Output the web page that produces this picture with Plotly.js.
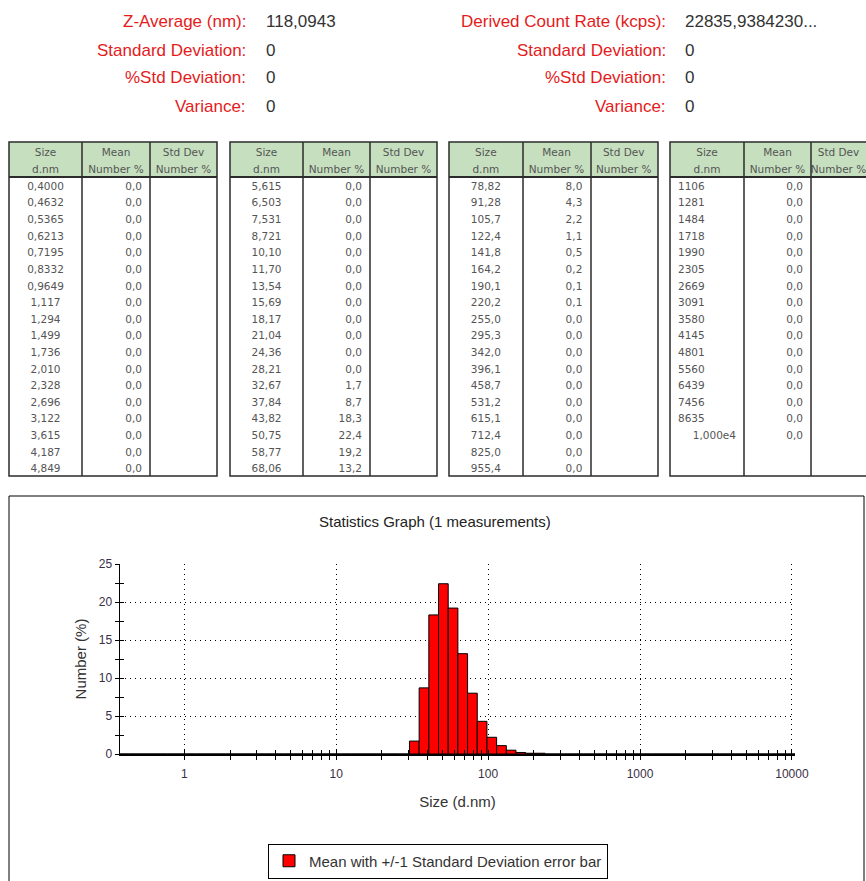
<!DOCTYPE html>
<html>
<head>
<meta charset="utf-8">
<script src="https://cdn.plot.ly/plotly-3.0.1.min.js"></script>
<style>
html,body{margin:0;padding:0;background:#ffffff;}
#chart{width:866px;height:881px;}
</style>
</head>
<body>
<div id="chart"></div>
<script>
// ---------------- data ----------------
const sizeLabels = [
  "0,4000","0,4632","0,5365","0,6213","0,7195","0,8332","0,9649","1,117","1,294",
  "1,499","1,736","2,010","2,328","2,696","3,122","3,615","4,187","4,849",
  "5,615","6,503","7,531","8,721","10,10","11,70","13,54","15,69","18,17",
  "21,04","24,36","28,21","32,67","37,84","43,82","50,75","58,77","68,06",
  "78,82","91,28","105,7","122,4","141,8","164,2","190,1","220,2","255,0",
  "295,3","342,0","396,1","458,7","531,2","615,1","712,4","825,0","955,4",
  "1106","1281","1484","1718","1990","2305","2669","3091","3580",
  "4145","4801","5560","6439","7456","8635","1,000e4"
];
const meanNumber = [
  0.0,0.0,0.0,0.0,0.0,0.0,0.0,0.0,0.0,
  0.0,0.0,0.0,0.0,0.0,0.0,0.0,0.0,0.0,
  0.0,0.0,0.0,0.0,0.0,0.0,0.0,0.0,0.0,
  0.0,0.0,0.0,1.7,8.7,18.3,22.4,19.2,13.2,
  8.0,4.3,2.2,1.1,0.5,0.2,0.1,0.1,0.0,
  0.0,0.0,0.0,0.0,0.0,0.0,0.0,0.0,0.0,
  0.0,0.0,0.0,0.0,0.0,0.0,0.0,0.0,0.0,
  0.0,0.0,0.0,0.0,0.0,0.0,0.0
];
const tableRowCounts = [18, 18, 18, 16];
const headerLabels = [["Size", "d.nm"], ["Mean", "Number\u00a0%"], ["Std\u00a0Dev", "Number\u00a0%"]];
const summaryLeftLabels = ["Z-Average (nm):", "Standard Deviation:", "%Std Deviation:", "Variance:"];
const summaryLeftValues = ["118,0943", "0", "0", "0"];
const summaryRightLabels = ["Derived Count Rate (kcps):", "Standard Deviation:", "%Std Deviation:", "Variance:"];
const summaryRightValues = ["22835,9384230...", "0", "0", "0"];
const xTickVals = [1, 10, 100, 1000, 10000];
const xTickText = ["1", "10", "100", "1000", "10000"];
const xMinorVals = [2,3,4,5,6,7,8,9,20,30,40,50,60,70,80,90,200,300,400,500,600,700,800,900,
                    2000,3000,4000,5000,6000,7000,8000,9000];
const yTickVals = [0, 5, 10, 15, 20, 25];
const graphTitle = "Statistics Graph (1 measurements)";
const seriesName = "Mean with +/-1 Standard Deviation error bar";

// ---------------- geometry helpers ----------------
const W = 866, H = 881;
const fx = v => v / W;
const fy = v => 1 - v / H;

const sizes = sizeLabels.map(s => parseFloat(s.replace(',', '.')));
const fmt1 = v => v.toFixed(1).replace('.', ',');

// bar edges halfway (geometrically) between neighbouring size classes
const lowEdge = sizes.map((s, i) => Math.sqrt(s * (i > 0 ? sizes[i - 1] : s * s / sizes[1])));
const highEdge = sizes.map((s, i) => Math.sqrt(s * (i < sizes.length - 1 ? sizes[i + 1] : s * s / sizes[i - 1])));

// ---------------- tables ----------------
const tableCols = [[9, 82, 150, 217], [230, 303, 370, 437], [449, 523, 591, 658], [670, 744, 811, 878]];
const tableTop = 142, headerBottom = 177, tableBottom = 476;
const traceTop = 140, headRowH = 17;
const rowH = (tableBottom - headerBottom) / 18;
const tFont = {family: "DejaVu Sans, Verdana, sans-serif", size: 10.5, color: "#555555"};
const lineCol = "#2b2b2b";
const clear = 'rgba(0,0,0,0)';

const traces = [];
const shapes = [];
let start = 0;
tableRowCounts.forEach((n, t) => {
  const c = tableCols[t];
  const right = Math.min(c[3], W);
  const lab = sizeLabels.slice(start, start + n);
  const mean = meanNumber.slice(start, start + n).map(fmt1);
  const sd = lab.map(() => "");
  const sizeAlign = t === 3 ? lab.map(l => (l.indexOf('e') >= 0 ? 'right' : 'left')) : lab.map(() => 'center');
  // header background (drawn under the transparent table)
  shapes.push({type: 'rect', layer: 'below', xref: 'paper', yref: 'paper', x0: fx(c[0]), x1: fx(c[3]), y0: fy(tableTop), y1: fy(headerBottom), fillcolor: '#c6e0bf', line: {width: 0}});
  traces.push({
    type: 'table',
    domain: {x: [fx(c[0]), fx(right)], y: [fy(tableBottom + 2), fy(traceTop)]},
    columnwidth: [c[1] - c[0], c[2] - c[1], right - c[2]],
    header: {
      values: headerLabels,
      height: headRowH,
      align: 'center',
      fill: {color: clear},
      line: {color: clear, width: 0},
      font: tFont
    },
    cells: {
      values: [lab, mean, sd],
      height: rowH,
      align: [sizeAlign, 'right', 'right'],
      fill: {color: clear},
      line: {color: clear, width: 0},
      font: tFont
    }
  });
  const lw = 1.5;
  shapes.push({type: 'rect', xref: 'paper', yref: 'paper', x0: fx(c[0]), x1: fx(c[3]), y0: fy(tableTop), y1: fy(tableBottom), line: {color: lineCol, width: lw}});
  shapes.push({type: 'line', xref: 'paper', yref: 'paper', x0: fx(c[1]), x1: fx(c[1]), y0: fy(tableTop), y1: fy(tableBottom), line: {color: lineCol, width: lw}});
  shapes.push({type: 'line', xref: 'paper', yref: 'paper', x0: fx(c[2]), x1: fx(c[2]), y0: fy(tableTop), y1: fy(tableBottom), line: {color: lineCol, width: lw}});
  shapes.push({type: 'line', xref: 'paper', yref: 'paper', x0: fx(c[0]), x1: fx(c[3]), y0: fy(headerBottom), y1: fy(headerBottom), line: {color: lineCol, width: 2}});
  start += n;
});

// graph frame
shapes.push({type: 'rect', xref: 'paper', yref: 'paper', x0: fx(9), x1: fx(864), y0: fy(496), y1: fy(900), line: {color: '#000', width: 1}});

// ---------------- bar chart ----------------
traces.push({
  type: 'bar',
  name: seriesName,
  x: sizes,
  y: meanNumber,
  offset: sizes.map((s, i) => lowEdge[i] - s),
  width: sizes.map((s, i) => highEdge[i] - lowEdge[i]),
  marker: {color: '#ff0000', line: {color: '#000000', width: 1}},
  showlegend: true,
  hoverinfo: 'skip'
});
// same data on the overlay axes, drawing nothing, so the inner tick marks are laid out
traces.push({
  type: 'scatter', mode: 'none', x: sizes, y: meanNumber, xaxis: 'x2', yaxis: 'y2',
  showlegend: false, hoverinfo: 'skip'
});

// ---------------- annotations ----------------
const red = '#e41b1b';
const hFont = {family: 'Liberation Sans, Arial, sans-serif', size: 17};
const rowsY = [22, 50, 78, 106];
const annotations = [];
rowsY.forEach((yy, i) => {
  annotations.push({xref: 'paper', yref: 'paper', x: fx(248), y: fy(yy), xanchor: 'right', yanchor: 'middle', showarrow: false, text: summaryLeftLabels[i], font: Object.assign({color: red}, hFont)});
  annotations.push({xref: 'paper', yref: 'paper', x: fx(264), y: fy(yy), xanchor: 'left', yanchor: 'middle', showarrow: false, text: summaryLeftValues[i], font: Object.assign({color: '#333'}, hFont)});
  annotations.push({xref: 'paper', yref: 'paper', x: fx(668), y: fy(yy), xanchor: 'right', yanchor: 'middle', showarrow: false, text: summaryRightLabels[i], font: Object.assign({color: red}, hFont)});
  annotations.push({xref: 'paper', yref: 'paper', x: fx(683), y: fy(yy), xanchor: 'left', yanchor: 'middle', showarrow: false, text: summaryRightValues[i], font: Object.assign({color: '#333'}, hFont)});
});
annotations.push({xref: 'paper', yref: 'paper', x: fx(435), y: fy(521), xanchor: 'center', yanchor: 'middle', showarrow: false, text: graphTitle, font: {family: 'Liberation Sans, Arial, sans-serif', size: 15, color: '#222'}});

const gFont = {family: 'Liberation Sans, Arial, sans-serif', size: 12, color: '#3a2f45'};
const titleFont = {family: 'Liberation Sans, Arial, sans-serif', size: 15, color: '#333'};
const xRange = [-0.423, 4.02];

const layout = {
  width: W, height: H, autosize: false,
  margin: {l: 0, r: 0, t: 0, b: 0, pad: 0, autoexpand: false},
  paper_bgcolor: '#ffffff', plot_bgcolor: 'rgba(0,0,0,0)',
  showlegend: true,
  legend: {x: fx(268), y: fy(861), xanchor: 'left', yanchor: 'middle', bgcolor: '#fff', bordercolor: '#000', borderwidth: 1,
           font: {family: 'Liberation Sans, Arial, sans-serif', size: 15, color: '#333'}},
  xaxis: {
    type: 'log', range: xRange, autorange: false,
    domain: [fx(120), fx(795)], anchor: 'y',
    showline: true, linecolor: '#000', linewidth: 1.5,
    tickmode: 'array', tickvals: xTickVals, ticktext: xTickText,
    ticks: 'outside', ticklen: 4, tickcolor: '#000', tickwidth: 1,
    ticklabelstandoff: 4,
    tickfont: gFont,
    showgrid: true, gridcolor: '#000', gridwidth: 1, griddash: '1px,4px',
    minor: {tickmode: 'array', tickvals: xMinorVals, ticks: 'outside', ticklen: 4, tickcolor: '#000', tickwidth: 1, showgrid: false},
    zeroline: false,
    title: {text: 'Size (d.nm)', font: titleFont, standoff: 16}
  },
  yaxis: {
    range: [0, 25], autorange: false,
    domain: [fy(754), fy(564)], anchor: 'x',
    showline: true, linecolor: '#000', linewidth: 1.5,
    tickmode: 'array', tickvals: yTickVals,
    ticks: 'outside', ticklen: 4, tickcolor: '#000', tickwidth: 1,
    tickfont: gFont,
    showgrid: true, gridcolor: '#000', gridwidth: 1, griddash: '1px,4px',
    minor: {dtick: 2.5, ticks: 'outside', ticklen: 4, tickcolor: '#000', tickwidth: 1, showgrid: false},
    zeroline: false,
    title: {text: 'Number (%)', font: titleFont, standoff: 8}
  },
  xaxis2: {
    type: 'log', range: xRange, autorange: false, overlaying: 'x', anchor: 'y', side: 'bottom',
    tickmode: 'array', tickvals: xTickVals.concat(xMinorVals), ticks: 'inside', ticklen: 4, tickcolor: '#000', tickwidth: 1,
    showticklabels: false, showgrid: false, showline: false, zeroline: false
  },
  yaxis2: {
    range: [0, 25], autorange: false, overlaying: 'y', anchor: 'x', side: 'left',
    tickmode: 'linear', dtick: 2.5, tick0: 0, ticks: 'inside', ticklen: 4, tickcolor: '#000', tickwidth: 1,
    showticklabels: false, showgrid: false, showline: false, zeroline: false
  },
  shapes: shapes,
  annotations: annotations
};

Plotly.newPlot('chart', traces, layout, {staticPlot: true, displayModeBar: false});
</script>
</body>
</html>
